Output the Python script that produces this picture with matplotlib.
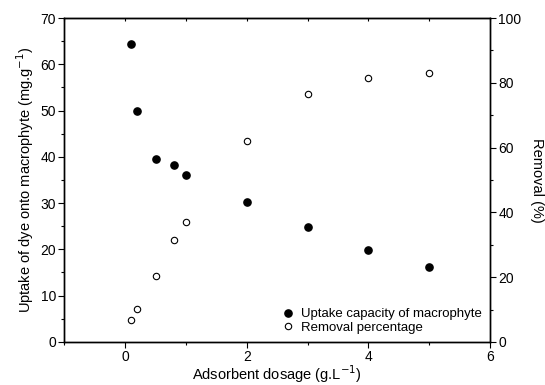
import matplotlib.pyplot as plt
from matplotlib.ticker import MultipleLocator, NullFormatter

plt.rcParams['font.family'] = ['Liberation Sans', 'DejaVu Sans']

dosage = [0.1, 0.2, 0.5, 0.8, 1.0, 2.0, 3.0, 4.0, 5.0]
uptake = [64.3, 49.9, 39.5, 38.3, 36.0, 30.2, 24.9, 19.8, 16.2]
removal = [6.7, 10.3, 20.3, 31.5, 37.0, 62.1, 76.5, 81.6, 83.1]

fig, ax = plt.subplots(figsize=(5.45, 3.85), dpi=100)
fig.subplots_adjust(left=0.118, right=0.899, top=0.953, bottom=0.112)
ax2 = ax.twinx()

h1, = ax.plot(dosage, uptake, 'o', color='black', markersize=5.2, linestyle='none',
              label='Uptake capacity of macrophyte')
h2, = ax2.plot(dosage, removal, 'o', mfc='white', mec='black', markersize=4.6, mew=0.8,
               linestyle='none', label='Removal percentage')

ax.set_xlim(-1, 6)
ax.set_ylim(0, 70)
ax2.set_ylim(0, 100)

ax.xaxis.set_major_locator(MultipleLocator(2))
ax.xaxis.set_minor_locator(MultipleLocator(1))
ax.yaxis.set_major_locator(MultipleLocator(10))
ax.yaxis.set_minor_locator(MultipleLocator(5))
ax2.yaxis.set_major_locator(MultipleLocator(20))
ax2.yaxis.set_minor_locator(MultipleLocator(10))

ax.tick_params(axis='both', which='major', direction='out', length=4, width=0.8, labelsize=10, pad=2)
ax.tick_params(axis='both', which='minor', direction='out', length=2.5, width=0.8)
ax2.tick_params(axis='y', which='major', direction='out', length=4, width=0.8, labelsize=10, pad=2)
ax2.tick_params(axis='y', which='minor', direction='out', length=2.5, width=0.8)

# small inward ticks along the top frame
top = ax.secondary_xaxis('top')
top.xaxis.set_major_locator(MultipleLocator(1))
top.xaxis.set_major_formatter(NullFormatter())
top.tick_params(axis='x', which='major', direction='in', length=2.5, width=0.8)

for a in (ax, ax2):
    for s in a.spines.values():
        s.set_linewidth(1.0)

ax.set_xlabel('Adsorbent dosage (g.L$^{-1}$)', fontsize=10.5, labelpad=-1)
ax.set_ylabel('Uptake of dye onto macrophyte (mg.g$^{-1}$)', fontsize=10.5, labelpad=3)
ax2.set_ylabel('Removal (%)', fontsize=10.5, rotation=270, labelpad=16)

ax.legend(handles=[h1, h2], loc='lower right', frameon=False, fontsize=9.5,
          handletextpad=0.4, borderaxespad=0.2, labelspacing=0.1, handlelength=1.2)

plt.savefig('out.png', dpi=100)
plt.close()
